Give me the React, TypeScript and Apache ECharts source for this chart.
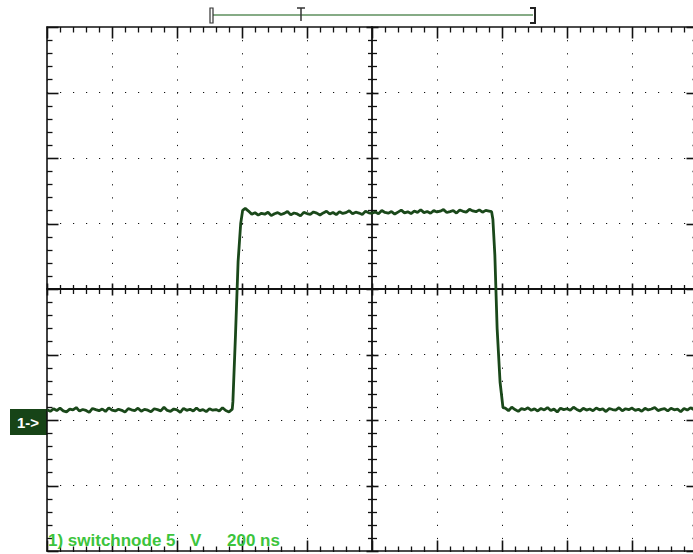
import React, { useEffect, useRef } from "react";
import * as echarts from "echarts";

// ---- time base (ns) and vertical scale (V) ----
const TIME_MIN_NS = -1000;
const TIME_MAX_NS = 1000;
const NS_PER_DIV = 200;
const VOLT_MIN = -10;
const VOLT_MAX = 30;
const VOLT_PER_DIV = 5;
const MINOR_PER_DIV = 5;
const SAMPLE_STEP_NS = 10;

// ---- trace samples (volts) ----
const LOW_BEFORE_START_NS = -1000;
const lowBefore = [
  0.78, 0.66, 0.85, 0.72, 0.91, 0.7, 0.62, 0.83, 0.77, 0.95,
  0.68, 0.8, 0.73, 0.58, 0.88, 0.79, 0.71, 0.84, 0.65, 0.93,
  0.76, 0.69, 0.82, 0.74, 0.6, 0.87, 0.78, 0.72, 0.9, 0.67,
  0.81, 0.75, 0.63, 0.86, 0.79, 0.7, 0.97, 0.73, 0.66, 0.84,
  0.77, 0.59, 0.89, 0.74, 0.82, 0.68, 0.92, 0.71, 0.79, 0.64,
  0.86, 0.75, 0.8, 0.69, 0.94, 0.72, 0.61, 0.83,
];
const riseEdge: [number, number][] = [
  [-428, 1.4], [-420, 6.5], [-412, 12.1], [-404, 15.0], [-398, 16.0],
];
const HIGH_START_NS = -390;
const highLevel = [
  16.15, 15.95, 15.7, 15.82, 15.64, 15.78, 15.71, 15.86, 15.6, 15.74,
  15.83, 15.69, 15.77, 15.92, 15.66, 15.8, 15.73, 15.58, 15.85, 15.76,
  15.7, 15.88, 15.79, 15.65, 15.81, 15.94, 15.72, 15.84, 15.68, 15.9,
  15.77, 15.83, 15.97, 15.74, 15.86, 15.8, 15.69, 15.93, 15.82, 15.78,
  15.88, 15.75, 15.99, 15.84, 15.79, 15.91, 15.72, 15.87, 16.02, 15.81,
  15.89, 15.76, 15.95, 15.85, 16.05, 15.83, 15.92, 15.78, 15.98, 15.88,
  15.94, 16.06, 15.84, 15.91, 15.99, 15.8, 16.03, 15.93, 15.87, 16.08,
  15.96, 15.9, 16.04, 15.86, 16.0, 15.95,
];
const fallEdge: [number, number][] = [
  [368, 15.9], [372, 15.3], [378, 12.6], [385, 7.0], [394, 2.9], [403, 0.95],
];
const LOW_AFTER_START_NS = 410;
const lowAfter = [
  0.9, 0.71, 0.98, 0.8, 0.66, 0.87, 0.79, 0.93, 0.74, 0.85,
  0.69, 0.88, 0.77, 0.95, 0.72, 0.83, 0.61, 0.9, 0.79, 0.86,
  0.74, 0.97, 0.81, 0.68, 0.89, 0.76, 0.84, 0.71, 0.92, 0.78,
  0.85, 0.64, 0.88, 0.8, 0.75, 0.94, 0.7, 0.86, 0.79, 0.91,
  0.73, 0.82, 0.67, 0.89, 0.77, 0.84, 0.96, 0.72, 0.81, 0.87,
  0.69, 0.9, 0.78, 0.83, 0.63, 0.88, 0.76, 0.93, 0.8, 0.74,
];

// ---- texts ----
const channelName = "1) switchnode 5";
const voltUnit = "V";
const timeScale = "200 ns";
const channelMarker = "1->";

const INK = "#111";
const TRACE = "#1a481a";
const LABEL_GREEN = "#3cc43c";

function sampled(start: number, vals: number[]): [number, number][] {
  return vals.map((v, i) => [start + i * SAMPLE_STEP_NS, v]);
}

const trace: [number, number][] = [
  ...sampled(LOW_BEFORE_START_NS, lowBefore),
  ...riseEdge,
  ...sampled(HIGH_START_NS, highLevel),
  ...fallEdge,
  ...sampled(LOW_AFTER_START_NS, lowAfter),
];

// graticule tick marks: [time, volt, kind, major]
// kind 0: down from top border, 1: up from bottom border, 2: across centre horizontal
// kind 3: right from left border, 4: left from right border, 5: across centre vertical
const VOLT_CENTER = (VOLT_MIN + VOLT_MAX) / 2;
const TIME_CENTER = (TIME_MIN_NS + TIME_MAX_NS) / 2;
const tickMarks: number[][] = [];
{
  const nsMinor = NS_PER_DIV / MINOR_PER_DIV;
  const nX = Math.round((TIME_MAX_NS - TIME_MIN_NS) / nsMinor);
  for (let i = 0; i <= nX; i++) {
    const t = TIME_MIN_NS + i * nsMinor;
    const major = i % MINOR_PER_DIV === 0 ? 1 : 0;
    tickMarks.push([t, VOLT_MAX, 0, major], [t, VOLT_MIN, 1, major], [t, VOLT_CENTER, 2, major]);
  }
  const vMinor = VOLT_PER_DIV / MINOR_PER_DIV;
  const nY = Math.round((VOLT_MAX - VOLT_MIN) / vMinor);
  for (let i = 0; i <= nY; i++) {
    const v = VOLT_MIN + i * vMinor;
    const major = i % MINOR_PER_DIV === 0 ? 1 : 0;
    tickMarks.push([TIME_MIN_NS, v, 3, major], [TIME_MAX_NS, v, 4, major], [TIME_CENTER, v, 5, major]);
  }
}

function renderTick(_params: any, api: any) {
  const p = api.coord([api.value(0), api.value(1)]);
  const kind = api.value(2);
  const major = api.value(3) === 1;
  const edgeLen = major ? 11 : 5;
  const crossLen = major ? 6 : 4.5;
  const x = Math.round(p[0]) + 0.5;
  const y = Math.round(p[1]) + 0.5;
  let shape;
  if (kind === 0) shape = { x1: x, y1: y, x2: x, y2: y + edgeLen };
  else if (kind === 1) shape = { x1: x, y1: y, x2: x, y2: y - edgeLen };
  else if (kind === 2) shape = { x1: x, y1: y - crossLen, x2: x, y2: y + crossLen };
  else if (kind === 3) shape = { x1: x, y1: y, x2: x + edgeLen, y2: y };
  else if (kind === 4) shape = { x1: x, y1: y, x2: x - edgeLen, y2: y };
  else shape = { x1: x - crossLen, y1: y, x2: x + crossLen, y2: y };
  return { type: "line", shape, style: { stroke: INK, lineWidth: major ? 1.6 : 1.3 } };
}

function plainAxis(min: number, max: number, interval: number, position: string, extra: any) {
  return {
    type: "value",
    min,
    max,
    interval,
    position,
    axisLabel: { show: false },
    axisTick: { show: false },
    minorTick: { show: false },
    splitLine: { show: false },
    axisLine: { show: true, onZero: false, lineStyle: { color: INK, width: 1.6 } },
    ...extra,
  };
}

export default function App() {
  const ref = useRef<HTMLDivElement>(null);
  useEffect(() => {
    if (!ref.current) return;
    const chart = echarts.init(ref.current, null, { renderer: "svg" });
    const halfRange = (VOLT_MAX - VOLT_MIN) / 2;
    const font = "bold 17px 'Liberation Sans', Arial, sans-serif";
    chart.setOption({
      animation: false,
      backgroundColor: "#ffffff",
      grid: { left: 47, top: 27, width: 650, height: 524, containLabel: false, outerBoundsMode: "none" },
      xAxis: [
        plainAxis(TIME_MIN_NS, TIME_MAX_NS, NS_PER_DIV, "bottom", {
          splitLine: { show: true, lineStyle: { color: INK, width: 1, type: [1.2, 11.9] } },
        }),
        plainAxis(TIME_MIN_NS, TIME_MAX_NS, NS_PER_DIV, "top", {}),
        plainAxis(TIME_MIN_NS, TIME_MAX_NS, NS_PER_DIV, "bottom", {
          axisLine: { show: true, onZero: true, onZeroAxisIndex: 1, lineStyle: { color: INK, width: 1.8 } },
        }),
      ],
      yAxis: [
        plainAxis(VOLT_MIN, VOLT_MAX, VOLT_PER_DIV, "left", {
          splitLine: { show: true, lineStyle: { color: INK, width: 1, type: [1.2, 11.8] } },
        }),
        plainAxis(-halfRange, halfRange, VOLT_PER_DIV, "right", {}),
        plainAxis(-halfRange, halfRange, VOLT_PER_DIV, "left", {
          axisLine: { show: true, onZero: true, onZeroAxisIndex: 0, lineStyle: { color: INK, width: 1.8 } },
        }),
      ],
      series: [
        {
          type: "custom",
          xAxisIndex: 0,
          yAxisIndex: 0,
          data: tickMarks,
          renderItem: renderTick,
          clip: false,
          silent: true,
          z: 3,
        },
        {
          type: "line",
          xAxisIndex: 0,
          yAxisIndex: 0,
          data: trace,
          showSymbol: false,
          symbol: "none",
          z: 5,
          lineStyle: { color: TRACE, width: 2.8 },
        },
      ],
      graphic: [
        // memory window bracket
        { type: "line", shape: { x1: 213, y1: 15, x2: 533, y2: 15 }, style: { stroke: "#5e8f5e", lineWidth: 1.5 } },
        { type: "rect", shape: { x: 210, y: 8, width: 3, height: 15 }, style: { stroke: "#333", fill: "#fff", lineWidth: 1.2 } },
        { type: "polyline", shape: { points: [[530, 8], [535, 8], [535, 23], [530, 23]] }, style: { stroke: "#222", fill: "none", lineWidth: 2 } },
        { type: "line", shape: { x1: 301, y1: 8, x2: 301, y2: 21 }, style: { stroke: "#333", lineWidth: 1.5 } },
        { type: "line", shape: { x1: 297, y1: 8, x2: 305, y2: 8 }, style: { stroke: "#333", lineWidth: 1.5 } },
        // channel ground marker
        { type: "rect", shape: { x: 10, y: 409, width: 37, height: 26 }, style: { fill: "#174417" } },
        {
          type: "text",
          x: 28,
          y: 422,
          style: { text: channelMarker, fill: "#ffffff", font: "bold 15px 'Liberation Sans', Arial, sans-serif", align: "center", verticalAlign: "middle" },
        },
        // channel label
        { type: "text", x: 48, y: 540, z: 10, style: { text: channelName, fill: LABEL_GREEN, font, verticalAlign: "middle" } },
        { type: "text", x: 190, y: 540, z: 10, style: { text: voltUnit, fill: LABEL_GREEN, font, verticalAlign: "middle" } },
        { type: "text", x: 227, y: 540, z: 10, style: { text: timeScale, fill: LABEL_GREEN, font, verticalAlign: "middle" } },
      ],
    });
    return () => chart.dispose();
  }, []);
  return (
    <div
      ref={ref}
      style={{ position: "fixed", left: 0, top: 0, width: 693, height: 554, background: "#fff" }}
    />
  );
}
